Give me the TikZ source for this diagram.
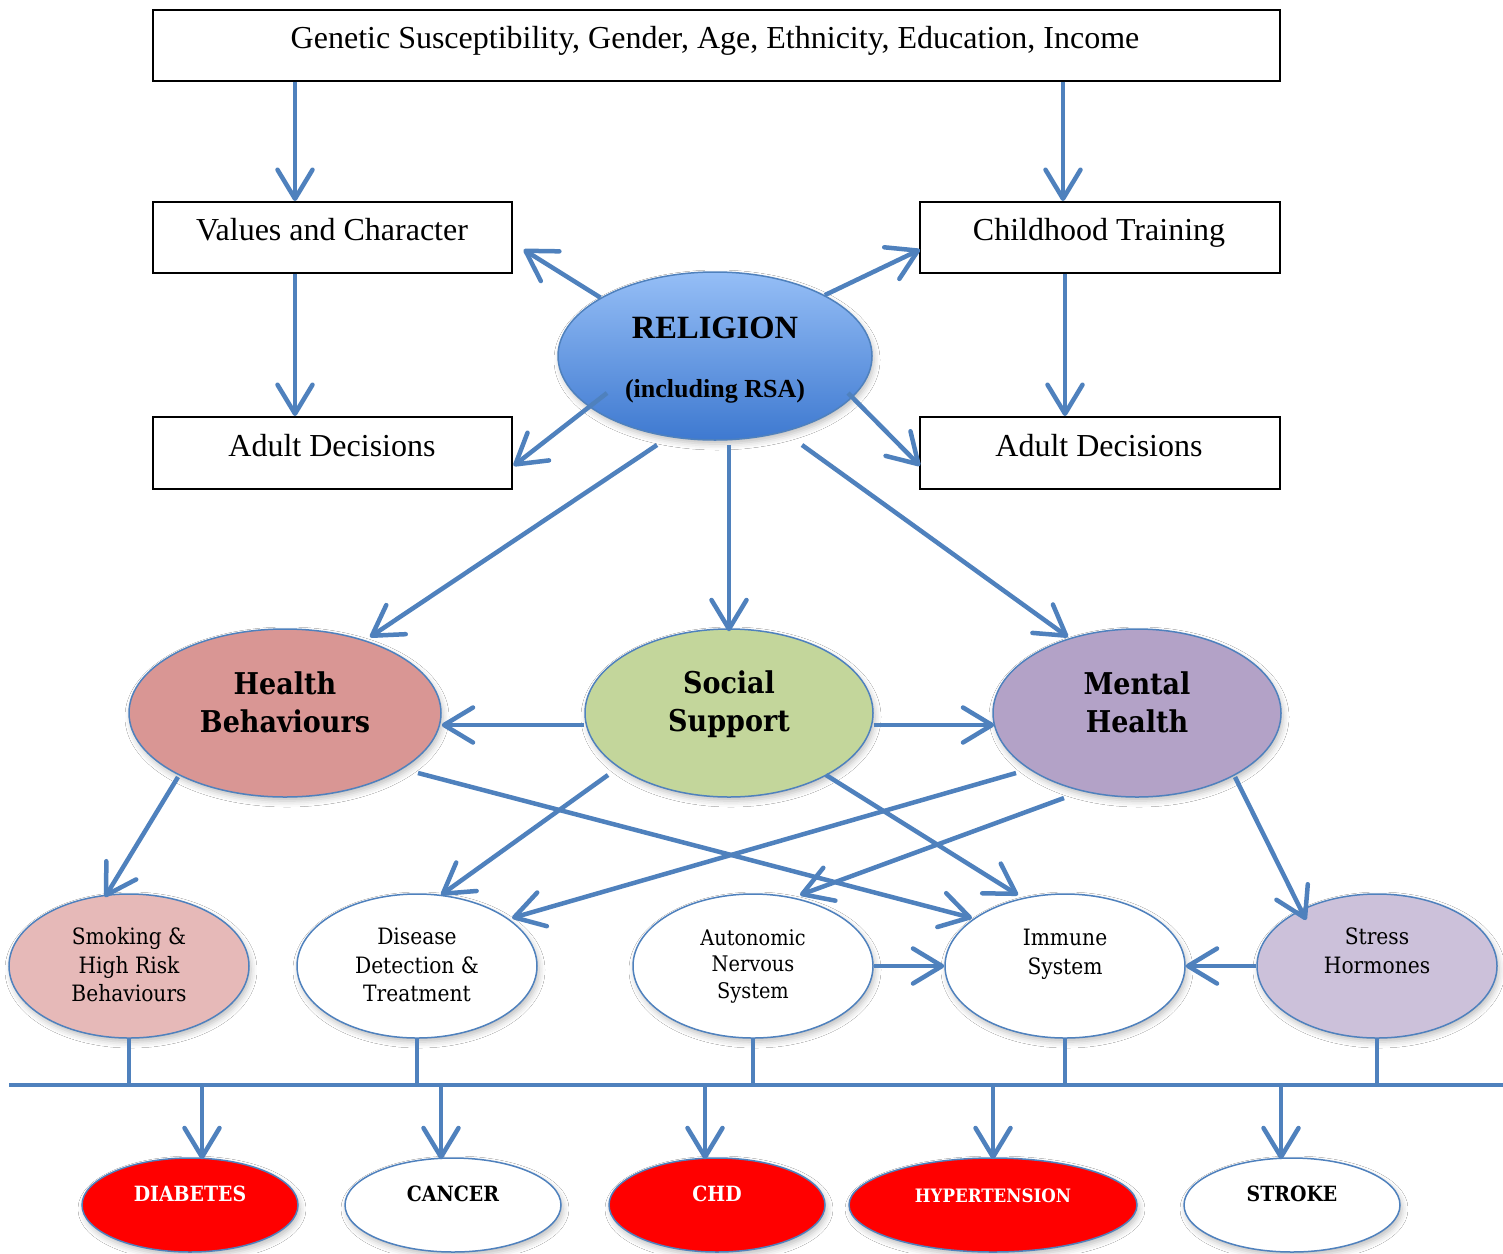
\documentclass[tikz,border=0pt]{standalone}
\usepackage{fontspec}
\setmainfont{Liberation Serif}
\newfontfamily\cond{DejaVu Serif Condensed}
\usetikzlibrary{arrows.meta,calc,shadows.blur,shapes.geometric}

\definecolor{link}{HTML}{4F81BD}
\definecolor{relTop}{HTML}{95BEF6}
\definecolor{relBot}{HTML}{3E79D0}
\definecolor{hbFill}{HTML}{D99694}
\definecolor{ssFill}{HTML}{C3D69B}
\definecolor{mhFill}{HTML}{B3A2C7}
\definecolor{smFill}{HTML}{E6B9B8}
\definecolor{shFill}{HTML}{CCC1DA}
\definecolor{dzRed}{HTML}{FF0000}

\tikzset{
  flow/.style={draw=link, line width=4.5pt,
    -{Straight Barb[length=29pt,width=35pt,round]}},
  wire/.style={draw=link, line width=4.5pt},
  box/.style={draw=black, line width=1.6pt, fill=white, inner sep=0pt,
    minimum width=359pt, minimum height=71pt, anchor=north west},
  oval/.style={ellipse, draw=link, line width=1.5pt, inner sep=0pt,
    blur shadow={shadow xshift=2pt, shadow yshift=-4pt,
      shadow opacity=25, shadow blur radius=6pt}},
  big/.style={oval, minimum width=288pt, minimum height=168pt},
  small/.style={oval, minimum width=240pt, minimum height=144pt},
  dz/.style={oval, minimum width=216pt, minimum height=94pt},
  boxtxt/.style={inner sep=0pt, font=\fontsize{32}{36}\selectfont},
  bigtxt/.style={inner sep=0pt, align=center, font=\cond\bfseries\fontsize{30}{38}\selectfont},
  smalltxt/.style={inner sep=0pt, align=center, font=\cond\fontsize{22.5}{28.5}\selectfont},
  dztxt/.style={inner sep=0pt, font=\cond\bfseries\fontsize{21}{26}\selectfont},
}

\begin{document}
\begin{tikzpicture}[x=1pt,y=-1pt]
\path[use as bounding box, fill=white] (0,0) rectangle (1503,1253);

% ---- background factors and upbringing ----
\node[box, minimum width=1127pt] (top) at (152,9) {};
\node[boxtxt] (topt) at (715,41) {Genetic Susceptibility, Gender, Age, Ethnicity, Education, Income};
\node[box] (vc) at (152,201) {};
\node[boxtxt] (vct) at (332,230) {Values and Character};
\node[box, minimum width=360pt] (ch) at (919,201) {};
\node[boxtxt] (cht) at (1099,233) {Childhood Training};
\node[box, minimum height=72pt] (adl) at (152,416) {};
\node[boxtxt] (adlt) at (332,446) {Adult Decisions};
\node[box, minimum width=360pt, minimum height=72pt] (adr) at (919,416) {};
\node[boxtxt] (adrt) at (1099,446) {Adult Decisions};

% ---- religion ----
\node[oval, minimum width=314pt, minimum height=168pt,
      top color=relTop, bottom color=relBot] (rel) at (715,356) {};
\node[inner sep=0pt, font=\bfseries\fontsize{32.5}{36}\selectfont] (relt) at (715,328) {RELIGION};
\node[inner sep=0pt, font=\bfseries\fontsize{26}{30}\selectfont] (relt2) at (715,391) {(including RSA)};

% ---- pathways ----
\node[big, minimum width=312pt, fill=hbFill] (hb) at (285,713) {};
\node[bigtxt] (hbt) at (285,702) {Health\\Behaviours};
\node[big, fill=ssFill] (ss) at (729,713) {};
\node[bigtxt] (sst) at (729,704) {Social\\Support};
\node[big, fill=mhFill] (mh) at (1137,713) {};
\node[bigtxt] (mht) at (1137,702) {Mental\\Health};

% ---- mechanisms ----
\node[small, fill=smFill] (sm) at (129,966) {};
\node[smalltxt] (smt) at (129,965) {Smoking \&\\High Risk\\Behaviours};
\node[small, fill=white] (dd) at (417,966) {};
\node[smalltxt] (ddt) at (417,965) {Disease\\Detection \&\\Treatment};
\node[small, fill=white] (an) at (753,966) {};
\node[smalltxt, font=\cond\fontsize{21.5}{26.5}\selectfont] (ant) at (753,966) {Autonomic\\Nervous\\System};
\node[small, fill=white] (im) at (1065,966) {};
\node[smalltxt, font=\cond\fontsize{22.5}{29}\selectfont] (imt) at (1065,954) {Immune\\System};
\node[small, fill=shFill] (sh) at (1377,966) {};
\node[smalltxt] (sht) at (1377,951) {Stress\\Hormones};

% ---- outcomes ----
\node[dz, fill=dzRed] (di) at (190,1205) {};
\node[dztxt, text=white] (dit) at (190,1194) {DIABETES};
\node[dz, fill=white] (ca) at (453,1205) {};
\node[dztxt] (cat) at (453,1194) {CANCER};
\node[dz, fill=dzRed] (chd) at (717,1205) {};
\node[dztxt, text=white] (chdt) at (717,1194) {CHD};
\node[dz, minimum width=288pt, fill=dzRed] (hy) at (993,1205) {};
\node[dztxt, text=white, font=\cond\bfseries\fontsize{18.5}{24}\selectfont] (hyt) at (993,1196) {HYPERTENSION};
\node[dz, fill=white] (st) at (1292,1205) {};
\node[dztxt] (stt) at (1292,1194) {STROKE};

% ---- connectors: upbringing ----
\draw[flow] ($(top.south west)+(143,0)$) -- ($(vc.north west)+(143,0)$);
\draw[flow] ($(top.south west)+(911,0)$) -- ($(ch.north west)+(144,0)$);
\draw[flow] ($(vc.south west)+(143,0)$) -- ($(adl.north west)+(143,0)$);
\draw[flow] ($(ch.south west)+(146,0)$) -- ($(adr.north west)+(146,0)$);

% ---- connectors: religion ----
\draw[flow] (rel.153) -- ($(vc.south east)+(11,-24)$);
\draw[flow] (rel.29) -- ($(ch.south west)+(1,-24)$);
\draw[flow] ($(rel.center)+(-108,37)$) -- ($(adl.east)+(1,13)$);
\draw[flow] ($(rel.center)+(133,37)$) -- ($(adr.west)+(1,13)$);
\draw[flow] ($(rel.center)+(-58,89)$) -- ($(hb.center)+(85,-76)$);
\draw[flow] ($(rel.center)+(14,89)$) -- ($(ss.north)+(0,3)$);
\draw[flow] ($(rel.center)+(87,89)$) -- ($(mh.center)+(-69,-76)$);

% ---- connectors: pathways ----
\draw[flow] ($(ss.west)+(0,12)$) -- ($(hb.east)+(0,12)$);
\draw[flow] ($(ss.east)+(0,12)$) -- ($(mh.west)+(2,12)$);
\draw[flow] ($(hb.center)+(-107,64)$) -- ($(sm.center)+(-24,-69)$);
\draw[flow] ($(hb.center)+(133,60)$) -- ($(im.center)+(-93,-48)$);
\draw[flow] ($(ss.center)+(-121,62)$) -- ($(dd.center)+(24,-71)$);
\draw[flow] ($(ss.center)+(97,62)$) -- ($(im.center)+(-47,-71)$);
\draw[flow] ($(mh.center)+(-121,60)$) -- ($(dd.center)+(95,-48)$);
\draw[flow] ($(mh.center)+(-73,85)$) -- ($(an.center)+(47,-71)$);
\draw[flow] ($(mh.center)+(98,64)$) -- ($(sh.center)+(-71,-46)$);
\draw[flow] (an.east) -- (im.west);
\draw[flow] (sh.west) -- (im.east);

% ---- common bus to outcomes ----
\coordinate (busL) at (9,1085);
\coordinate (busR) at (1503,1085);
\draw[wire] (busL) -- (busR);
\foreach \m in {sm,dd,an,im,sh}
  \draw[wire] (\m.south) -- (\m.south |- busL);
\coordinate (e1) at ($(di.north)+(12,2)$);
\coordinate (e2) at ($(ca.north)+(-12,2)$);
\coordinate (e3) at ($(chd.north)+(-12,2)$);
\coordinate (e4) at ($(hy.north)+(0,2)$);
\coordinate (e5) at ($(st.north)+(-11,2)$);
\foreach \e in {e1,e2,e3,e4,e5}
  \draw[flow] (\e |- busL) -- (\e);
\end{tikzpicture}
\end{document}
